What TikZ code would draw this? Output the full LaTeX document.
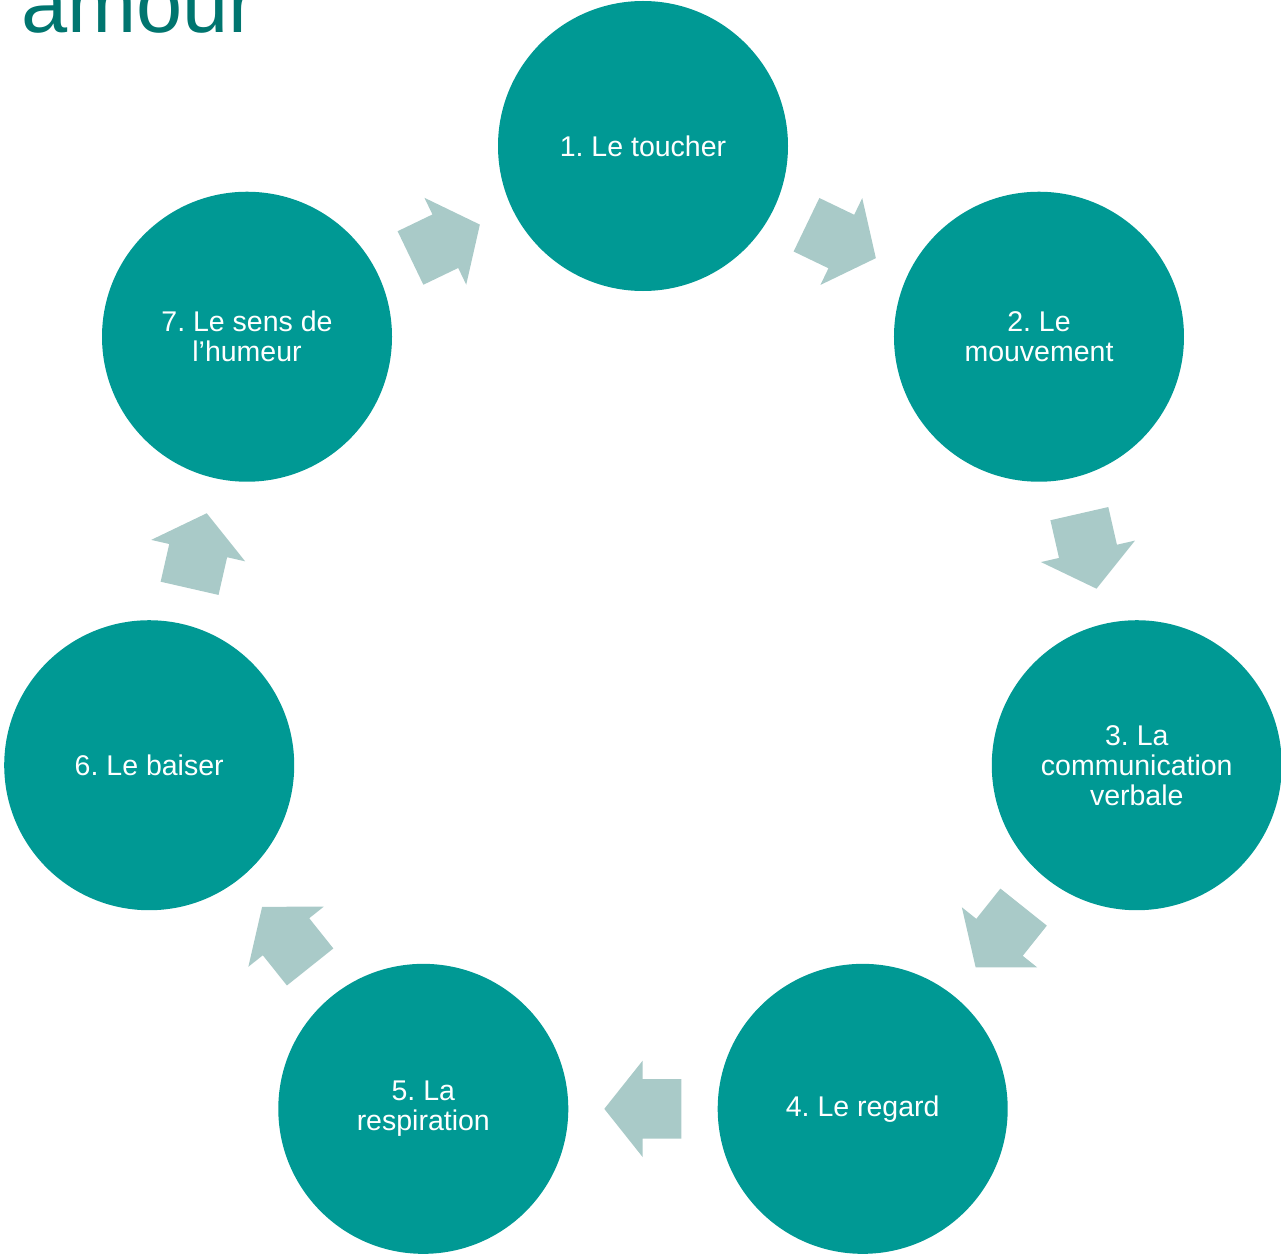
\documentclass[tikz,border=0pt]{standalone}
\usepackage{fontspec}
\setmainfont{Liberation Sans}
\usetikzlibrary{shapes.arrows,calc}

\definecolor{sarcelle}{HTML}{009994}
\definecolor{grisvert}{HTML}{A9CAC8}
\definecolor{titrevert}{HTML}{00756F}

\begin{document}
\frenchspacing
\begin{tikzpicture}[
  font=\fontsize{28.5}{30}\selectfont,
  etape/.style={circle, fill=sarcelle, text=white, align=center, minimum size=290pt, inner sep=0pt},
  fleche/.style={single arrow, fill=grisvert, minimum height=77pt, inner xsep=0pt, inner ysep=29.5pt,
    single arrow head extend=18.5pt, single arrow tip angle=103, anchor=tail}
]
  \useasboundingbox (-643pt,-601.5pt) rectangle (638pt,652.5pt);

  \node[anchor=base west, inner sep=0pt, text=titrevert, font=\fontsize{83}{90}\selectfont] (titre) at (-622pt,619.5pt) {amour};

  % the seven steps, clockwise from the top
  \node[etape] (c1) at (90:506.5pt) {1. Le toucher};
  \node[etape] (c2) at (38.57:506.5pt) {2. Le\\mouvement};
  \node[etape] (c3) at (-12.86:506.5pt) {3. La\\communication\\verbale};
  \node[etape] (c4) at (-64.29:506.5pt) {4. Le regard};
  \node[etape] (c5) at (-115.71:506.5pt) {5. La\\respiration};
  \node[etape] (c6) at (-167.14:506.5pt) {6. Le baiser};
  \node[etape] (c7) at (141.43:506.5pt) {7. Le sens de\\l’humeur};

  % block arrows halfway between neighbours (tail set back by half a length)
  \node[fleche, rotate=-25.71] (f12) at ($(c1)!.5!(c2)!38.5pt!(c1)$) {};
  \node[fleche, rotate=-77.14] (f23) at ($(c2)!.5!(c3)!38.5pt!(c2)$) {};
  \node[fleche, rotate=-128.57] (f34) at ($(c3)!.5!(c4)!38.5pt!(c3)$) {};
  \node[fleche, rotate=180] (f45) at ($(c4)!.5!(c5)!38.5pt!(c4)$) {};
  \node[fleche, rotate=128.57] (f56) at ($(c5)!.5!(c6)!38.5pt!(c5)$) {};
  \node[fleche, rotate=77.14] (f67) at ($(c6)!.5!(c7)!38.5pt!(c6)$) {};
  \node[fleche, rotate=25.71] (f71) at ($(c7)!.5!(c1)!38.5pt!(c7)$) {};
\end{tikzpicture}
\end{document}
